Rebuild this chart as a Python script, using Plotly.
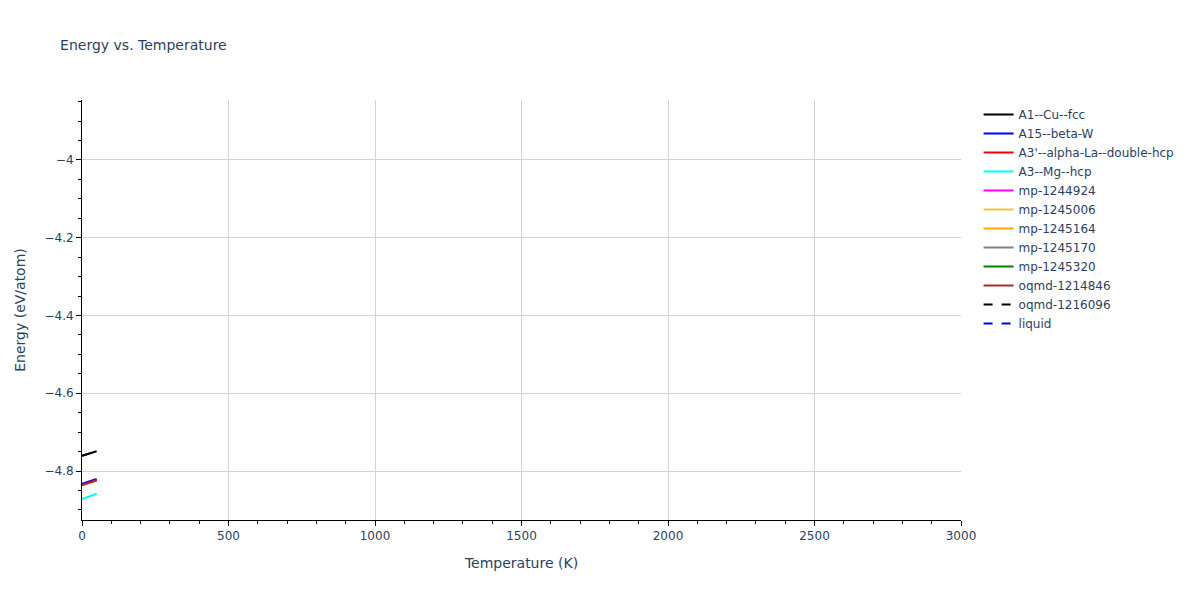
import plotly.graph_objects as go

# temperatures (K) sampled by each phase
temps = [0, 50]

# energies (eV/atom) at those temperatures
a1_cu_fcc = [-4.7606, -4.7493]
a15_beta_w = [-4.8327, -4.8206]
a3p_alpha_la = [-4.8360, -4.8239]
a3_mg_hcp = [-4.8720, -4.8584]
oqmd_1214846 = [-4.8360, -4.8239]
oqmd_1216096 = [-4.7606, -4.7493]
no_data = [None, None]  # phases with nothing drawn in range

series = [
    ("A1--Cu--fcc", a1_cu_fcc, "black", "solid"),
    ("A15--beta-W", a15_beta_w, "blue", "solid"),
    ("A3'--alpha-La--double-hcp", a3p_alpha_la, "red", "solid"),
    ("A3--Mg--hcp", a3_mg_hcp, "cyan", "solid"),
    ("mp-1244924", no_data, "magenta", "solid"),
    ("mp-1245006", no_data, "#efc83a", "solid"),
    ("mp-1245164", no_data, "orange", "solid"),
    ("mp-1245170", no_data, "gray", "solid"),
    ("mp-1245320", no_data, "green", "solid"),
    ("oqmd-1214846", oqmd_1214846, "brown", "solid"),
    ("oqmd-1216096", oqmd_1216096, "black", "dash"),
    ("liquid", no_data, "blue", "dash"),
]

fig = go.Figure()
for name, y, color, dash in series:
    fig.add_trace(go.Scatter(
        x=temps, y=y, mode="lines", name=name,
        line=dict(color=color, width=2, dash=dash),
    ))

axis_style = dict(
    showline=True, linecolor="black", linewidth=1,
    ticks="outside", tickcolor="black", ticklen=5,
    showgrid=True, gridcolor="lightgrey", zeroline=False,
    title_font=dict(size=14),
)

fig.update_xaxes(
    title_text="Temperature (K)", range=[0, 3000], dtick=500,
    minor=dict(dtick=100, ticks="outside", ticklen=3, tickcolor="black", showgrid=False),
    **axis_style,
)
fig.update_yaxes(
    title_text="Energy (eV/atom)", range=[-4.926, -3.846], dtick=0.2,
    minor=dict(dtick=0.05, ticks="outside", ticklen=3, tickcolor="black", showgrid=False),
    **axis_style,
)

# page body has an 8px margin, so the margins are trimmed to land the plot
# area where the reference has it
fig.update_layout(
    title=dict(text="Energy vs. Temperature", x=0.044, y=0.937, yanchor="middle",
               font=dict(size=14)),
    plot_bgcolor="white", paper_bgcolor="white",
    font=dict(family="DejaVu Sans, Verdana, sans-serif", size=12, color="#2a3f5f"),
    margin=dict(l=71, r=80, t=92, b=72),
)

fig.write_html("out.html")
